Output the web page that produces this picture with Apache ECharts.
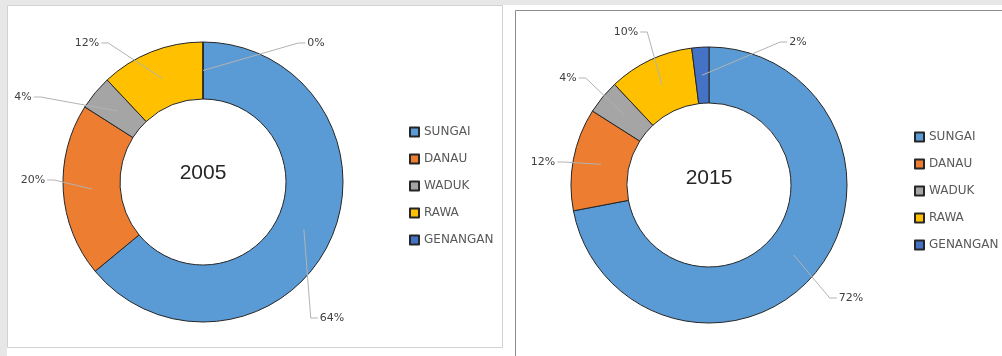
<!DOCTYPE html>
<html>
<head>
<meta charset="utf-8">
<script src="https://cdn.jsdelivr.net/npm/echarts@6/dist/echarts.min.js"></script>
<style>
  html, body { margin: 0; padding: 0; background: #ffffff; }
  #chart { width: 1002px; height: 356px; }
</style>
</head>
<body>
<div id="chart"></div>
<script>
// Water body categories and their share (%) of the total area
const categories = ['SUNGAI', 'DANAU', 'WADUK', 'RAWA', 'GENANGAN'];
const years = ['2005', '2015'];
const share2005 = [64, 20, 4, 12, 0];
const share2015 = [72, 12, 4, 10, 2];

const sliceColors = ['#5B9BD5', '#ED7D31', '#A5A5A5', '#FFC000', '#4472C4'];

// Ring geometry for each doughnut (px)
const rings = [
  { center: [203, 182], inner: 83, outer: 140, legendLeft: 404, legendTop: 120 },
  { center: [709, 185], inner: 82, outer: 138, legendLeft: 909, legendTop: 125 }
];

// Where each percentage label sits (text centre, px), in category order
const labelSpots = [
  [[332, 318], [33, 180], [23, 97], [87, 43], [316, 43]],
  [[851, 298], [543, 162], [568, 78], [626, 32], [798, 42]]
];

const chart = echarts.init(document.getElementById('chart'), null, { renderer: 'canvas' });

// Leader line runs from the middle of the ring at the slice's mid-angle to the label's near side
function leaderLayout(ring, spots) {
  return function (params) {
    const spot = spots[params.dataIndex];
    const cx = ring.center[0], cy = ring.center[1];
    const rMid = (ring.inner + ring.outer) / 2;
    const p0 = params.labelLinePoints ? params.labelLinePoints[0] : [cx, cy - ring.outer];
    const dx = p0[0] - cx, dy = p0[1] - cy;
    const len = Math.hypot(dx, dy) || 1;
    const anchor = [cx + dx / len * rMid, cy + dy / len * rMid];
    const halfW = params.labelRect.width / 2;
    const side = anchor[0] < spot[0] ? -1 : 1;
    const edgeX = spot[0] + side * (halfW + 2);
    const elbowX = edgeX + side * 7;
    return {
      x: spot[0],
      y: spot[1],
      align: 'center',
      verticalAlign: 'middle',
      labelLinePoints: [anchor, [elbowX, spot[1]], [edgeX, spot[1]]]
    };
  };
}

function sliceData(values, transparent) {
  return categories.map((name, i) => ({
    name: name,
    value: values[i],
    itemStyle: { color: transparent ? 'rgba(0,0,0,0)' : sliceColors[i] }
  }));
}

// Filled doughnut
function ringSeries(idx, values) {
  const ring = rings[idx];
  return {
    type: 'pie',
    name: years[idx],
    center: ring.center,
    radius: [ring.inner, ring.outer],
    startAngle: 90,
    clockwise: true,
    avoidLabelOverlap: false,
    animation: false,
    legendHoverLink: false,
    z: 2,
    itemStyle: { borderColor: '#262626', borderWidth: 1 },
    label: { show: false },
    labelLine: { show: false },
    emphasis: { disabled: true },
    data: sliceData(values, false)
  };
}

// Same slices, unfilled, carrying the percentage labels and leader lines above the ring
function labelSeries(idx, values) {
  const ring = rings[idx];
  return {
    type: 'pie',
    name: years[idx] + ' labels',
    center: ring.center,
    radius: [ring.inner, ring.outer],
    startAngle: 90,
    clockwise: true,
    avoidLabelOverlap: false,
    animation: false,
    silent: true,
    legendHoverLink: false,
    z: 5,
    itemStyle: { borderWidth: 0 },
    label: {
      show: true,
      position: 'outside',
      formatter: '{c}%',
      fontFamily: 'DejaVu Sans',
      fontSize: 11,
      color: '#404040'
    },
    labelLine: {
      show: true,
      length: 10,
      length2: 8,
      lineStyle: { color: '#b3b3b3', width: 1 }
    },
    labelLayout: leaderLayout(ring, labelSpots[idx]),
    emphasis: { disabled: true },
    data: sliceData(values, true)
  };
}

function legendFor(idx) {
  const ring = rings[idx];
  return {
    orient: 'vertical',
    left: ring.legendLeft,
    top: ring.legendTop,
    itemWidth: 9,
    itemHeight: 9,
    itemGap: 13,
    icon: 'rect',
    selectedMode: false,
    textStyle: {
      fontFamily: 'DejaVu Sans',
      fontSize: 12,
      lineHeight: 14,
      color: '#595959'
    },
    data: categories.map((name) => ({ name: name }))
  };
}

chart.setOption({
  backgroundColor: '#ffffff',
  animation: false,
  legend: [legendFor(0), legendFor(1)],
  graphic: [
    // page frame strips
    { type: 'rect', silent: true, z: -10, shape: { x: 0, y: 0, width: 1002, height: 5 }, style: { fill: '#e7e7e7' } },
    { type: 'rect', silent: true, z: -10, shape: { x: 0, y: 0, width: 7, height: 356 }, style: { fill: '#e7e7e7' } },
    // left panel
    { type: 'rect', silent: true, z: -9, shape: { x: 7.5, y: 5.5, width: 495, height: 342 }, style: { fill: '#ffffff', stroke: '#d2d2d2', lineWidth: 1 } },
    // right panel
    { type: 'rect', silent: true, z: -9, shape: { x: 515.5, y: 10.5, width: 500, height: 360 }, style: { fill: '#ffffff', stroke: '#8c8c8c', lineWidth: 1 } },
    // year captions in the doughnut holes
    {
      type: 'text', silent: true, z: 10,
      x: rings[0].center[0], y: rings[0].center[1] - 9,
      style: { text: years[0], fill: '#262626', font: '21px "Liberation Sans"', textAlign: 'center', textVerticalAlign: 'middle' }
    },
    {
      type: 'text', silent: true, z: 10,
      x: rings[1].center[0], y: rings[1].center[1] - 7,
      style: { text: years[1], fill: '#262626', font: '21px "Liberation Sans"', textAlign: 'center', textVerticalAlign: 'middle' }
    }
  ],
  series: [
    ringSeries(0, share2005),
    ringSeries(1, share2015),
    labelSeries(0, share2005),
    labelSeries(1, share2015)
  ]
});
</script>
</body>
</html>
